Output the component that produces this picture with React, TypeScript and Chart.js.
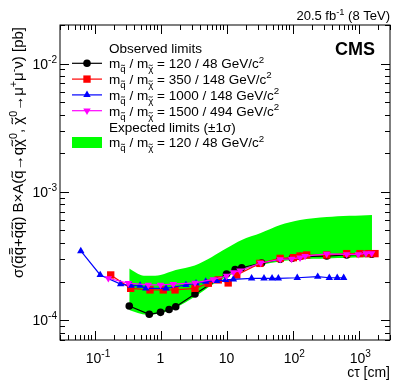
import React, { useEffect, useRef } from "react";
import { Chart, registerables } from "chart.js";

Chart.register(...registerables);

// ---- Data ----
const OBS120_X = [0.336, 0.676, 1.0, 1.35, 1.7, 3.33, 10, 13.5, 17, 34, 65, 99, 130, 330, 662, 1585];
const OBS120_Y = [1.29e-4, 1.11e-4, 1.15e-4, 1.21e-4, 1.27e-4, 1.6e-4, 2.29e-4, 2.48e-4, 2.56e-4, 2.79e-4, 2.98e-4, 3.04e-4, 3.13e-4, 3.16e-4, 3.22e-4, 3.26e-4];

const OBS350_X = [0.176, 0.353, 0.693, 1.1, 1.66, 3.33, 5.3, 7.5, 10.6, 14.3, 32, 65, 103, 130, 164, 330, 662, 1052, 1406, 1778];
const OBS350_Y = [2.25e-4, 1.77e-4, 1.72e-4, 1.72e-4, 1.72e-4, 1.77e-4, 1.94e-4, 2.06e-4, 1.95e-4, 2.25e-4, 2.77e-4, 3.03e-4, 3.07e-4, 3.16e-4, 3.22e-4, 3.22e-4, 3.3e-4, 3.3e-4, 3.3e-4, 3.3e-4];

const OBS1000_X = [0.062, 0.122, 0.249, 0.357, 0.49, 0.6, 1.21, 2.43, 3.45, 4.84, 7.1, 9.7, 12.7, 24, 37, 49, 61, 118, 241, 361, 476, 596];
const OBS1000_Y = [3.46e-4, 2.25e-4, 1.91e-4, 1.86e-4, 1.86e-4, 1.77e-4, 1.77e-4, 1.88e-4, 1.94e-4, 2.0e-4, 2.02e-4, 2.06e-4, 2.08e-4, 2.12e-4, 2.12e-4, 2.12e-4, 2.12e-4, 2.14e-4, 2.18e-4, 2.14e-4, 2.14e-4, 2.14e-4];

const OBS1500_X = [0.162, 0.325, 0.653, 1.0, 1.56, 3.33, 6.3, 10, 12.7, 16, 33, 65, 97, 130, 155, 330, 662, 993, 1298, 1585];
const OBS1500_Y = [2.12e-4, 1.94e-4, 1.88e-4, 1.88e-4, 1.91e-4, 1.95e-4, 2.08e-4, 2.21e-4, 2.36e-4, 2.43e-4, 2.79e-4, 2.98e-4, 3.0e-4, 3.07e-4, 3.16e-4, 3.28e-4, 3.26e-4, 3.26e-4, 3.32e-4, 3.32e-4];

const EXP_X = [0.336, 0.5, 0.68, 1.0, 1.7, 3.3, 6, 10, 17, 33, 65, 130, 330, 1600];
const EXP_UP = [2.53e-4, 2.25e-4, 2.22e-4, 2.25e-4, 2.46e-4, 2.67e-4, 3.11e-4, 3.63e-4, 4.22e-4, 4.78e-4, 5.52e-4, 6.04e-4, 6.37e-4, 6.6e-4];
const EXP_DN = [1.2e-4, 1.12e-4, 1.1e-4, 1.13e-4, 1.25e-4, 1.52e-4, 1.88e-4, 2.17e-4, 2.46e-4, 2.69e-4, 2.86e-4, 2.98e-4, 3.03e-4, 3.11e-4];

const X_MAJOR = [0.1, 1, 10, 100, 1000];
const X_LABELS = [["10", "-1"], ["1", ""], ["10", ""], ["10", "2"], ["10", "3"]];
const Y_MAJOR = [1e-4, 1e-3, 1e-2];
const Y_LABELS = [["10", "-4"], ["10", "-3"], ["10", "-2"]];

const LEGEND_MASSES = ["120 / 48", "350 / 148", "1000 / 148", "1500 / 494"];

const FONT = "'Liberation Sans', Arial, Helvetica, sans-serif";

type Seg = { t: string; k?: "sup" | "sub"; tilde?: boolean; bar?: boolean };

function segSize(size: number, k: string | undefined) {
  return k ? size * 0.72 : size;
}
function segFont(size: number, k: string | undefined, bold: boolean) {
  return `${bold ? "bold " : ""}${segSize(size, k)}px ${FONT}`;
}
function richWidth(ctx: CanvasRenderingContext2D, segs: Seg[], size: number, bold = false) {
  let w = 0;
  for (const s of segs) {
    ctx.font = segFont(size, s.k, bold);
    w += ctx.measureText(s.t).width;
  }
  return w;
}
function drawTilde(ctx: CanvasRenderingContext2D, cx: number, cy: number, sz: number) {
  const w = sz * 0.42;
  const a = sz * 0.07;
  ctx.save();
  ctx.strokeStyle = ctx.fillStyle as string;
  ctx.lineWidth = Math.max(0.8, sz * 0.075);
  ctx.beginPath();
  ctx.moveTo(cx - w / 2, cy + a * 0.6);
  ctx.bezierCurveTo(cx - w / 4, cy - a * 2, cx + w / 4, cy + a * 2, cx + w / 2, cy - a * 0.6);
  ctx.stroke();
  ctx.restore();
}
function drawRich(
  ctx: CanvasRenderingContext2D,
  segs: Seg[],
  x: number,
  y: number,
  size: number,
  align: "left" | "right" | "center" = "left",
  bold = false
) {
  const w = richWidth(ctx, segs, size, bold);
  let cx = align === "left" ? x : align === "right" ? x - w : x - w / 2;
  ctx.textAlign = "left";
  ctx.textBaseline = "alphabetic";
  for (const s of segs) {
    ctx.font = segFont(size, s.k, bold);
    const sz = segSize(size, s.k);
    const dy = s.k === "sup" ? -size * 0.42 : s.k === "sub" ? size * 0.3 : 0;
    ctx.fillText(s.t, cx, y + dy);
    const tw = ctx.measureText(s.t).width;
    if (s.tilde) {
      const ty = y + dy - sz * 0.52 - sz * 0.2;
      drawTilde(ctx, cx + tw / 2, ty, sz);
      if (s.bar) {
        ctx.save();
        ctx.strokeStyle = ctx.fillStyle as string;
        ctx.lineWidth = Math.max(0.8, sz * 0.07);
        ctx.beginPath();
        ctx.moveTo(cx + tw / 2 - sz * 0.2, ty - sz * 0.17);
        ctx.lineTo(cx + tw / 2 + sz * 0.2, ty - sz * 0.17);
        ctx.stroke();
        ctx.restore();
      }
    }
    cx += tw;
  }
}

function pts(xs: number[], ys: number[]) {
  return xs.map((x, i) => ({ x, y: ys[i] }));
}

function minorList(min: number, max: number) {
  const out: number[] = [];
  for (let e = Math.floor(Math.log10(min)); e <= Math.ceil(Math.log10(max)); e++) {
    for (let m = 2; m <= 9; m++) {
      const v = m * Math.pow(10, e);
      if (v >= min * 0.999 && v <= max * 1.001) out.push(v);
    }
  }
  return out;
}

function drawMarker(ctx: CanvasRenderingContext2D, style: string, r: number, rot: number, x: number, y: number, c: string) {
  ctx.save();
  ctx.fillStyle = c;
  ctx.beginPath();
  if (style === "circle") {
    ctx.arc(x, y, r, 0, Math.PI * 2);
  } else if (style === "rect") {
    const s = Math.SQRT1_2 * r;
    ctx.rect(x - s, y - s, 2 * s, 2 * s);
  } else {
    const a0 = (rot * Math.PI) / 180;
    for (let k = 0; k < 3; k++) {
      const a = a0 + (k * 2 * Math.PI) / 3;
      const px = x + Math.sin(a) * r;
      const py = y - Math.cos(a) * r;
      if (k === 0) ctx.moveTo(px, py); else ctx.lineTo(px, py);
    }
    ctx.closePath();
  }
  ctx.fill();
  ctx.restore();
}

const decorPlugin = {
  id: "decor",
  afterDatasetsDraw(chart: any) {
    const ctx: CanvasRenderingContext2D = chart.ctx;
    const { left, right, top, bottom } = chart.chartArea;
    const xs = chart.scales.x;
    const ys = chart.scales.y;
    ctx.save();
    ctx.strokeStyle = "#000";
    ctx.lineWidth = 1;
    ctx.strokeRect(left, top, right - left, bottom - top);
    const xMin = minorList(xs.min, xs.max);
    ctx.beginPath();
    for (const v of X_MAJOR) {
      const p = Math.round(xs.getPixelForValue(v)) + 0.5;
      ctx.moveTo(p, bottom); ctx.lineTo(p, bottom - 9);
      ctx.moveTo(p, top); ctx.lineTo(p, top + 9);
    }
    for (const v of xMin) {
      const p = Math.round(xs.getPixelForValue(v)) + 0.5;
      ctx.moveTo(p, bottom); ctx.lineTo(p, bottom - 5);
      ctx.moveTo(p, top); ctx.lineTo(p, top + 5);
    }
    const yMin = minorList(ys.min, ys.max);
    for (const v of Y_MAJOR) {
      const p = Math.round(ys.getPixelForValue(v)) + 0.5;
      ctx.moveTo(left, p); ctx.lineTo(left + 9, p);
      ctx.moveTo(right, p); ctx.lineTo(right - 9, p);
    }
    for (const v of yMin) {
      const p = Math.round(ys.getPixelForValue(v)) + 0.5;
      ctx.moveTo(left, p); ctx.lineTo(left + 5, p);
      ctx.moveTo(right, p); ctx.lineTo(right - 5, p);
    }
    ctx.stroke();

    ctx.fillStyle = "#000";
    X_MAJOR.forEach((v, i) => {
      const p = xs.getPixelForValue(v);
      const [b, s] = X_LABELS[i];
      const segs: Seg[] = [{ t: b }];
      if (s) segs.push({ t: s, k: "sup" });
      ctx.font = segFont(14, undefined, false);
      const bw = ctx.measureText(b).width;
      drawRich(ctx, segs, p - bw / 2 - (s ? 1 : 0), 363, 14, "left");
    });
    Y_MAJOR.forEach((v, i) => {
      const p = ys.getPixelForValue(v);
      const [b, s] = Y_LABELS[i];
      drawRich(ctx, [{ t: b }, { t: s, k: "sup" }], 57, p + 5, 14, "right");
    });
    drawRich(ctx, [{ t: "c\u03c4 [cm]" }], right, 377, 14, "right");

    // y title
    ctx.save();
    ctx.translate(23, top + 2);
    ctx.rotate(-Math.PI / 2);
    const q: Seg = { t: "q", tilde: true };
    const qb: Seg = { t: "q", tilde: true, bar: true };
    const chi: Seg = { t: "\u03c7", tilde: true };
    drawRich(
      ctx,
      [
        { t: "\u03c3(" }, q, qb, { t: "+" }, q, q,
        { t: ") B\u00d7A(" }, q, { t: "\u2192q" }, chi,
        { t: "0", k: "sup" },
        { t: ", " }, chi,
        { t: "0", k: "sup" },
        { t: "\u2192\u03bc" },
        { t: "+", k: "sup" },
        { t: "\u03bc" },
        { t: "-", k: "sup" },
        { t: "\u03bd) [pb]" },
      ],
      0,
      0,
      15,
      "right"
    );
    ctx.restore();

    drawRich(ctx, [{ t: "20.5 fb" }, { t: "-1", k: "sup" }, { t: " (8 TeV)" }], right, 20, 13, "right");
    drawRich(ctx, [{ t: "CMS" }], 375, 55, 18, "right", true);

    // legend
    const lx0 = 72, lx1 = 102, lm = 87, tx = 109;
    const fs = 13.5;
    const rows = [47.5, 63.3, 79.1, 94.9, 110.7, 126.5, 142.3];
    drawRich(ctx, [{ t: "Observed limits" }], tx, rows[0] + 5, fs);
    const styles = [
      { c: "#000000", s: "circle", r: 3.8, rot: 0 },
      { c: "#ff0000", s: "rect", r: 5.2, rot: 0 },
      { c: "#0000ff", s: "triangle", r: 4.3, rot: 0 },
      { c: "#ff00ff", s: "triangle", r: 4.3, rot: 180 },
    ];
    const massSegs = (m: string): Seg[] => [
      { t: "m" },
      { t: "q", k: "sub", tilde: true },
      { t: " / m" },
      { t: "\u03c7", k: "sub", tilde: true },
      { t: " = " + m + " GeV/c" },
      { t: "2", k: "sup" },
    ];
    styles.forEach((st, i) => {
      const y = rows[i + 1];
      ctx.strokeStyle = st.c;
      ctx.lineWidth = 1.2;
      ctx.beginPath();
      ctx.moveTo(lx0, y); ctx.lineTo(lx1, y);
      ctx.stroke();
      drawMarker(ctx, st.s, st.r, st.rot, lm, y, st.c);
      ctx.fillStyle = "#000";
      drawRich(ctx, massSegs(LEGEND_MASSES[i]), tx, y + 5, fs);
    });
    drawRich(ctx, [{ t: "Expected limits (\u00b11\u03c3)" }], tx, rows[5] + 5, fs);
    ctx.fillStyle = "#00ff00";
    ctx.fillRect(lx0, 137, lx1 - lx0, 11);
    ctx.fillStyle = "#000";
    drawRich(ctx, massSegs(LEGEND_MASSES[0]), tx, rows[6] + 5, fs);
    ctx.restore();
  },
};

export default function App() {
  const ref = useRef<HTMLCanvasElement | null>(null);
  useEffect(() => {
    if (!ref.current) return;
    const common = { showLine: true, tension: 0, borderWidth: 1.2 };
    const chart = new Chart(ref.current, {
      type: "scatter",
      data: {
        datasets: [
          {
            ...common,
            label: "1500/494",
            data: pts(OBS1500_X, OBS1500_Y),
            borderColor: "#ff00ff",
            backgroundColor: "#ff00ff",
            pointStyle: "triangle",
            rotation: 180,
            pointRadius: 4.3,
            pointBorderWidth: 0,
            order: 1,
          },
          {
            ...common,
            label: "1000/148",
            data: pts(OBS1000_X, OBS1000_Y),
            borderColor: "#0000ff",
            backgroundColor: "#0000ff",
            pointStyle: "triangle",
            pointRadius: 4.3,
            pointBorderWidth: 0,
            order: 2,
          },
          {
            ...common,
            label: "350/148",
            data: pts(OBS350_X, OBS350_Y),
            borderColor: "#ff0000",
            backgroundColor: "#ff0000",
            pointStyle: "rect",
            pointRadius: 5.2,
            pointBorderWidth: 0,
            order: 3,
          },
          {
            ...common,
            label: "120/48",
            data: pts(OBS120_X, OBS120_Y),
            borderColor: "#000000",
            backgroundColor: "#000000",
            pointStyle: "circle",
            pointRadius: 3.8,
            pointBorderWidth: 0,
            order: 4,
          },
          {
            label: "exp up",
            data: pts(EXP_X, EXP_UP),
            showLine: true,
            borderWidth: 0,
            borderColor: "rgba(0,0,0,0)",
            backgroundColor: "#00ff00",
            pointRadius: 0,
            tension: 0.3,
            fill: "+1",
            order: 10,
          },
          {
            label: "exp down",
            data: pts(EXP_X, EXP_DN),
            showLine: true,
            borderWidth: 0,
            borderColor: "rgba(0,0,0,0)",
            backgroundColor: "#00ff00",
            pointRadius: 0,
            tension: 0.3,
            fill: false,
            order: 11,
          },
        ],
      } as any,
      options: {
        responsive: false,
        animation: false,
        events: [],
        layout: { padding: { left: 0, right: 17, top: 25, bottom: 0 } },
        plugins: { legend: { display: false }, tooltip: { enabled: false }, title: { display: false } },
        scales: {
          x: {
            type: "logarithmic",
            min: 0.03,
            max: 3000,
            grid: { display: false },
            border: { display: false },
            ticks: { display: false },
            afterFit: (s: any) => { s.height = 51; },
          },
          y: {
            type: "logarithmic",
            min: 7e-5,
            max: 0.02,
            grid: { display: false },
            border: { display: false },
            ticks: { display: false },
            afterFit: (s: any) => { s.width = 60; },
          },
        },
      } as any,
      plugins: [decorPlugin],
    });
    return () => chart.destroy();
  }, []);
  return (
    <div style={{ position: "absolute", left: 0, top: 0, width: 407, height: 391, background: "#fff" }}>
      <canvas ref={ref} width={407} height={391} style={{ display: "block" }} />
    </div>
  );
}
